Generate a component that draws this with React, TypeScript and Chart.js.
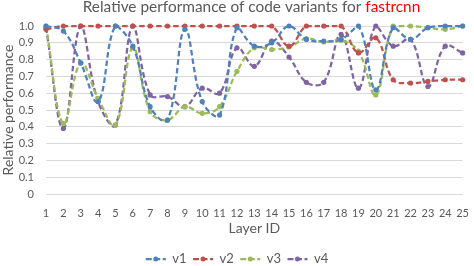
import React, { useEffect, useRef } from "react";
import { Chart, registerables } from "chart.js";

Chart.register(...registerables);

const layers = ["1","2","3","4","5","6","7","8","9","10","11","12","13","14","15","16","17","18","19","20","21","22","23","24","25"];
const v1 = [1.0, 0.97, 0.78, 0.55, 1.0, 0.88, 0.52, 0.44, 0.98, 0.55, 0.47, 0.99, 0.88, 0.9, 1.0, 0.92, 0.91, 0.92, 1.0, 0.62, 0.99, 0.92, 0.99, 1.0, 1.0];
const v2 = [0.98, 1, 1, 1, 1, 1, 1, 1, 1, 1, 1, 1, 1, 1, 0.88, 1, 1, 1, 0.84, 0.93, 0.68, 0.66, 0.67, 0.68, 0.68];
const v3 = [1.0, 0.42, 0.78, 0.57, 0.41, 0.87, 0.49, 0.44, 0.52, 0.48, 0.52, 0.73, 0.87, 0.86, 0.875, 0.925, 0.905, 0.915, 0.85, 0.59, 1.0, 1.0, 0.99, 0.98, 1.0];
const v4 = [0.99, 0.39, 1.0, 0.55, 0.41, 1.0, 0.59, 0.58, 0.52, 0.63, 0.6, 0.87, 0.76, 0.91, 0.815, 0.665, 0.665, 0.95, 0.63, 1.0, 0.88, 0.92, 0.64, 0.88, 0.84];
const seriesNames = ["v1", "v2", "v3", "v4"];
const seriesValues = [v1, v2, v3, v4];
const seriesColors = ["#4F81BD", "#C0504D", "#9BBB59", "#8064A2"];
const titleMain = "Relative performance of code variants for ";
const titleHighlight = "fastrcnn";
const yAxisTitle = "Relative performance";
const xAxisTitle = "Layer ID";

const FONT = "Lato, 'DejaVu Sans', sans-serif";
const TEXT_GRAY = "#595959";

const titlePlugin = {
  id: "twoColorTitle",
  afterDraw(chart: any) {
    const ctx = chart.ctx;
    ctx.save();
    ctx.font = `15.4px ${FONT}`;
    const w1 = ctx.measureText(titleMain).width;
    const w2 = ctx.measureText(titleHighlight).width;
    const cx = 251.5;
    const x = cx - (w1 + w2) / 2;
    ctx.textBaseline = "alphabetic";
    ctx.textAlign = "left";
    ctx.fillStyle = TEXT_GRAY;
    ctx.fillText(titleMain, x, 12);
    ctx.fillStyle = "#FF0000";
    ctx.fillText(titleHighlight, x + w1, 12);
    ctx.restore();
  },
};

const legendMarkerPlugin = {
  id: "legendMarkers",
  afterDraw(chart: any) {
    const legend = chart.legend;
    if (!legend || !legend.legendHitBoxes) return;
    const ctx = chart.ctx;
    const bw = legend.options.labels.boxWidth;
    legend.legendHitBoxes.forEach((hb: any, i: number) => {
      ctx.save();
      ctx.fillStyle = seriesColors[i];
      ctx.beginPath();
      ctx.arc(hb.left + bw / 2, hb.top + hb.height / 2, 2.5, 0, Math.PI * 2);
      ctx.fill();
      ctx.restore();
    });
  },
};

export default function App() {
  const ref = useRef<HTMLCanvasElement | null>(null);
  useEffect(() => {
    document.body.style.margin = "0";
    const canvas = ref.current;
    if (!canvas) return;
    const chart = new Chart(canvas, {
      type: "line",
      data: {
        labels: layers,
        datasets: seriesNames.map((name, i) => ({
          label: name,
          data: seriesValues[i],
          borderColor: seriesColors[i],
          backgroundColor: seriesColors[i],
          pointBackgroundColor: seriesColors[i],
          pointBorderWidth: 0,
          pointRadius: 2.6,
          borderWidth: 2.25,
          borderDash: [5.5, 3],
          tension: 0.4,
          fill: false,
          clip: false as any,
        })),
      },
      options: {
        animation: false,
        responsive: false,
        devicePixelRatio: 1,
        layout: { padding: { top: 26, left: 0, right: 0, bottom: 0 } },
        plugins: {
          title: { display: false },
          tooltip: { enabled: false },
          legend: {
            display: true,
            position: "bottom",
            maxHeight: 20,
            labels: {
              boxWidth: 20,
              boxHeight: 0,
              padding: 6.5,
              color: TEXT_GRAY,
              font: { family: FONT, size: 13 },
            },
          },
        },
        scales: {
          x: {
            type: "category",
            offset: false,
            grid: { display: false },
            border: { display: false },
            ticks: {
              color: TEXT_GRAY,
              font: { family: FONT, size: 11 },
              padding: 5,
              maxRotation: 0,
              autoSkip: false,
            },
            title: {
              display: true,
              text: xAxisTitle,
              color: TEXT_GRAY,
              font: { family: FONT, size: 14 },
              padding: { top: 0, bottom: 9.6 },
            },
            afterFit: (scale: any) => {
              scale.height = 52;
            },
          },
          y: {
            min: 0,
            max: 1,
            ticks: {
              stepSize: 0.1,
              color: TEXT_GRAY,
              font: { family: FONT, size: 11 },
              padding: 12,
            },
            grid: { color: "#D9D9D9", drawTicks: false, lineWidth: 1 },
            border: { display: false },
            title: {
              display: true,
              text: yAxisTitle,
              color: TEXT_GRAY,
              font: { family: FONT, size: 14 },
              padding: 0,
            },
            afterFit: (scale: any) => {
              scale.width = 46;
            },
          },
        },
      },
      plugins: [titlePlugin, legendMarkerPlugin],
    });
    return () => chart.destroy();
  }, []);
  return (
    <div style={{ width: 474, height: 266 }}>
      <canvas ref={ref} width={474} height={266} />
    </div>
  );
}
